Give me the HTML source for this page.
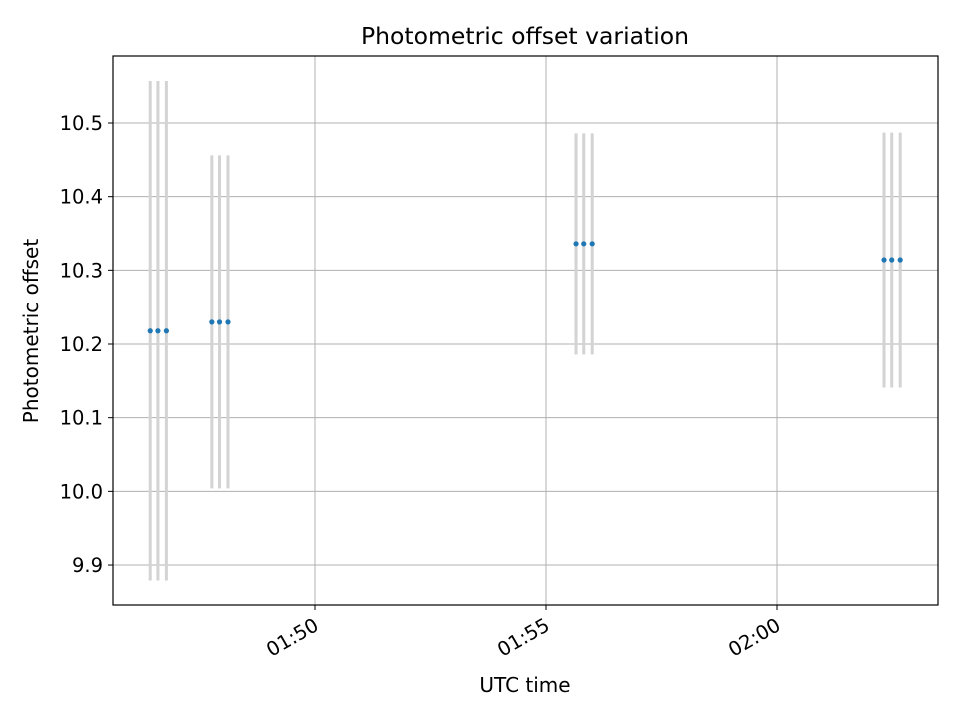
<!DOCTYPE html>
<html><head><meta charset="utf-8"><style>
body{margin:0;background:#fff}
svg text{font-family:"DejaVu Sans","Liberation Sans",sans-serif;fill:#000}
</style></head><body>
<svg id="chart" width="960" height="720">
<rect width="960" height="720" fill="#fff"/>
<g id="grid"></g><g id="marks"></g>
<rect x="113" y="56" width="825" height="549" fill="none" stroke="#000" stroke-width="1.2"/>
<g id="axes"></g>
<text x="525" y="44" text-anchor="middle" font-size="23.5">Photometric offset variation</text>
<text x="525" y="692" text-anchor="middle" font-size="20">UTC time</text>
<text transform="translate(38,331) rotate(-90)" text-anchor="middle" font-size="20">Photometric offset</text>
</svg>
<script>
// seconds relative to 01:50:00
const times = [-214, -204, -193, -134, -124, -113, 339, 349, 360, 739, 749, 760];
const offsets = [10.218, 10.218, 10.218, 10.230, 10.230, 10.230, 10.336, 10.336, 10.336, 10.314, 10.314, 10.314];
const errors = [0.339, 0.339, 0.339, 0.226, 0.226, 0.226, 0.150, 0.150, 0.150, 0.173, 0.173, 0.173];
const yTicks = [9.9, 10.0, 10.1, 10.2, 10.3, 10.4, 10.5];
const xTickSecs = [0, 300, 600];
const xTickLabels = ["01:50", "01:55", "02:00"];

const NS = "http://www.w3.org/2000/svg";
const X0 = 113, X1 = 938, Y0 = 56, Y1 = 605;
function xs(s){ return 315 + s * (231/300); }
function ys(v){ return 123 + (10.5 - v) * 736.7; }
function mk(tag, attrs, parent){
  const e = document.createElementNS(NS, tag);
  for (const k in attrs) e.setAttribute(k, attrs[k]);
  document.getElementById(parent).appendChild(e);
  return e;
}
yTicks.forEach((t) => {
  const y = ys(t);
  const g = mk("line", {x1:X0, x2:X1, y1:y, y2:y, stroke:"#b0b0b0", "stroke-width":1}, "grid");
  
  
  const tk = mk("line", {x1:X0-5, x2:X0, y1:y, y2:y, stroke:"#000"}, "axes");
  
  
  const tx = mk("text", {x:X0-10, y:y+7, "text-anchor":"end", "font-size":19.5}, "axes");
  tx.textContent = t.toFixed(1);
  
  
});
xTickSecs.forEach((s, i) => {
  const x = xs(s);
  const g = mk("line", {x1:x, x2:x, y1:Y0, y2:Y1, stroke:"#b0b0b0", "stroke-width":1}, "grid");
  
  
  const tk = mk("line", {x1:x, x2:x, y1:Y1, y2:Y1+5, stroke:"#000"}, "axes");
  
  
  const tx = mk("text", {transform:`translate(${x+5},${Y1+24}) rotate(-30)`, "text-anchor":"end", "font-size":19.5}, "axes");
  tx.textContent = xTickLabels[i];
  
  
});
times.forEach((s, i) => {
  const x = xs(s);
  const eb = mk("line", {x1:x, x2:x, y1:ys(offsets[i]+errors[i]), y2:ys(offsets[i]-errors[i]), stroke:"#d3d3d3", "stroke-width":3}, "marks");
  
  
});
times.forEach((s, i) => {
  const p = mk("circle", {cx:xs(s), cy:ys(offsets[i]), r:2.6, fill:"#1f77b4"}, "marks");
  
  
});
</script>
</body></html>
